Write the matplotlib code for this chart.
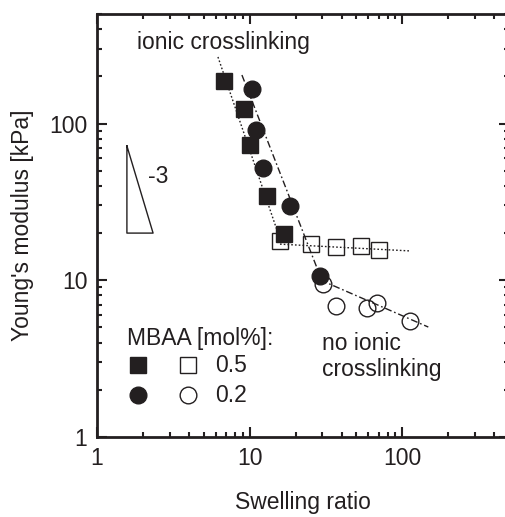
import matplotlib
matplotlib.use("Agg")
import matplotlib.pyplot as plt

plt.rcParams["font.family"] = ["Liberation Sans", "DejaVu Sans"]

INK = "#231f20"
FS = 16.5

# MBAA 0.5 mol%, ionic crosslinking (filled squares)
sq_ionic_x = [6.8, 9.2, 10.1, 13.0, 16.8]
sq_ionic_y = [187, 124, 73, 34.5, 19.7]

# MBAA 0.2 mol%, ionic crosslinking (filled circles)
ci_ionic_x = [10.4, 11.0, 12.3, 18.4, 29.0]
ci_ionic_y = [166, 91, 52, 29.8, 10.6]

# MBAA 0.5 mol%, no ionic crosslinking (open squares)
sq_plain_x = [15.8, 25.3, 36.9, 53.8, 70.7]
sq_plain_y = [17.8, 17.0, 16.3, 16.6, 15.6]

# MBAA 0.2 mol%, no ionic crosslinking (open circles)
ci_plain_x = [30.3, 36.9, 58.9, 68.6, 113]
ci_plain_y = [9.5, 6.86, 6.66, 7.17, 5.5]

# guide lines (end points)
fit_sq_ionic_x = [6.2, 16.3]
fit_sq_ionic_y = [266, 16.8]
fit_ci_ionic_x = [8.9, 29.0]
fit_ci_ionic_y = [204, 10.6]
fit_sq_plain_x = [15.8, 111]
fit_sq_plain_y = [17.0, 15.4]
fit_ci_plain_x = [29.0, 148]
fit_ci_plain_y = [10.05, 5.03]

# slope triangle (-3)
tri_x = [1.57, 1.57, 2.33, 1.57]
tri_y = [72, 20, 20, 72]

fig = plt.figure(figsize=(5.06, 5.17), dpi=100)
ax = fig.add_axes([97 / 506, 80 / 517, 412 / 506, 423 / 517])
ax.set_xscale("log")
ax.set_yscale("log")
ax.set_xlim(1, 500)
ax.set_ylim(1, 500)

# fit lines
ax.plot(fit_sq_ionic_x, fit_sq_ionic_y, color=INK, lw=1.0, ls=(0, (1.2, 1.5)), zorder=2)
ax.plot(fit_ci_ionic_x, fit_ci_ionic_y, color=INK, lw=1.0, ls=(0, (5, 2, 1.2, 2)), zorder=2)
ax.plot(fit_sq_plain_x, fit_sq_plain_y, color=INK, lw=1.0, ls=(0, (1.2, 1.5)), zorder=4)
ax.plot(fit_ci_plain_x, fit_ci_plain_y, color=INK, lw=1.0, ls=(0, (5, 2, 1.2, 2)), zorder=4)

ms = 12
ax.plot(sq_plain_x, sq_plain_y, "s", ms=ms, mfc="none", mec=INK, mew=1.0, zorder=3)
ax.plot(ci_plain_x, ci_plain_y, "o", ms=ms, mfc="none", mec=INK, mew=1.0, zorder=3)
ax.plot(sq_ionic_x, sq_ionic_y, "s", ms=ms, mfc=INK, mec=INK, zorder=5)
ax.plot(ci_ionic_x, ci_ionic_y, "o", ms=ms, mfc=INK, mec=INK, zorder=5)

ax.plot(tri_x, tri_y, color=INK, lw=1.0)
ax.text(2.16, 46, "-3", fontsize=FS, color=INK, va="center", ha="left")

ax.text(1.83, 327, "ionic crosslinking", fontsize=FS, color=INK, va="center", ha="left")
ax.text(29.9, 3.25, "no ionic\ncrosslinking", fontsize=FS, color=INK, va="center",
        ha="left", linespacing=1.15)

# hand-made legend
ax.text(30 / 412, 99 / 423, "MBAA [mol%]:", transform=ax.transAxes, fontsize=FS,
        color=INK, va="center", ha="left")
ax.plot([41 / 412], [72 / 423], "s", ms=11, mfc=INK, mec=INK, transform=ax.transAxes)
ax.plot([91 / 412], [72 / 423], "s", ms=11, mfc="none", mec=INK, mew=1.0, transform=ax.transAxes)
ax.plot([41 / 412], [42 / 423], "o", ms=12, mfc=INK, mec=INK, transform=ax.transAxes)
ax.plot([91 / 412], [42 / 423], "o", ms=12, mfc="none", mec=INK, mew=1.0, transform=ax.transAxes)
ax.text(118 / 412, 72 / 423, "0.5", transform=ax.transAxes, fontsize=FS, color=INK,
        va="center", ha="left")
ax.text(118 / 412, 42 / 423, "0.2", transform=ax.transAxes, fontsize=FS, color=INK,
        va="center", ha="left")

# axes styling
for s in ax.spines.values():
    s.set_linewidth(2.0)
    s.set_color(INK)
ax.tick_params(which="both", direction="in", top=True, right=True, color=INK,
               labelcolor=INK, labelsize=FS)
ax.tick_params(which="major", length=7, width=1.5, pad=7)
ax.tick_params(which="minor", length=3.5, width=1.5)
ax.set_xticks([1, 10, 100])
ax.set_xticklabels(["1", "10", "100"])
ax.set_yticks([1, 10, 100])
ax.set_yticklabels(["1", "10", "100"])

ax.set_xlabel("Swelling ratio", fontsize=FS, color=INK, labelpad=15)
ax.set_ylabel("Young's modulus [kPa]", fontsize=FS, color=INK, labelpad=11)

fig.savefig("out.png", dpi=100)
